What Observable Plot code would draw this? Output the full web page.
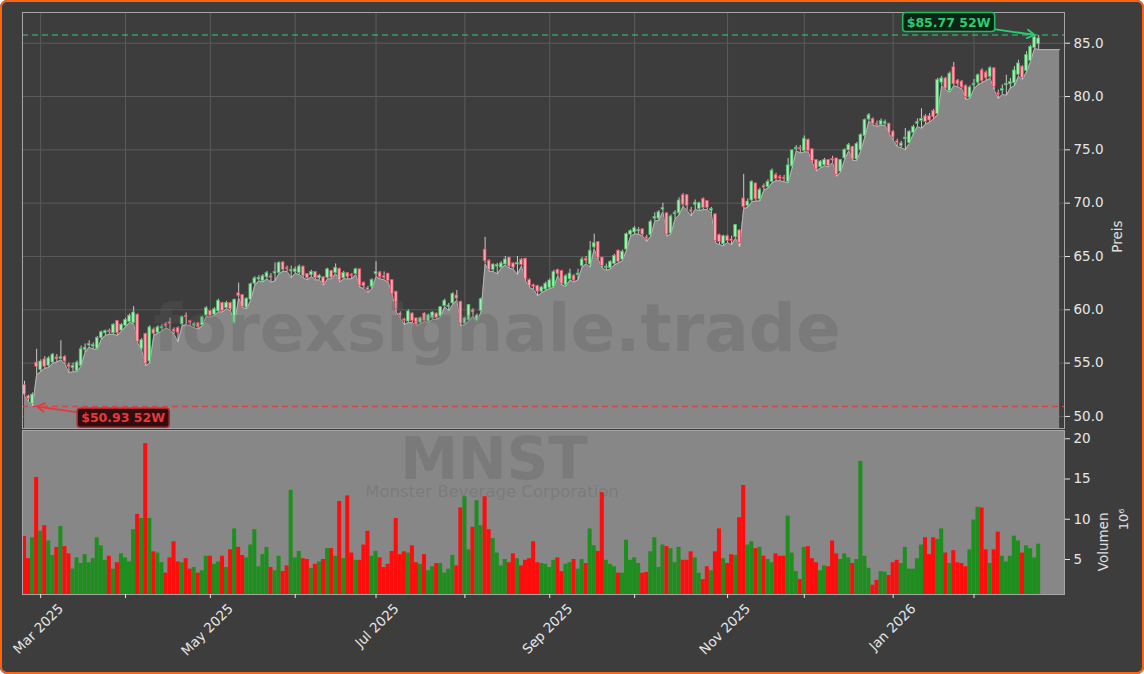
<!DOCTYPE html>
<html><head><meta charset="utf-8">
<script src="https://cdn.jsdelivr.net/npm/d3@7"></script>
<script src="https://cdn.jsdelivr.net/npm/@observablehq/plot@0.6"></script>
<style>
html,body{margin:0;padding:0;background:#ffffff;}
#fig{position:relative;width:1144px;height:674px;background:#3d3d3d;border-radius:7px;overflow:hidden;font-family:"DejaVu Sans",sans-serif;}
#fig > svg{position:absolute;left:0;}
#border{position:absolute;left:0;top:0;width:1144px;height:674px;box-sizing:border-box;border:2.5px solid #ff6411;border-radius:7px;pointer-events:none;}
</style></head><body>
<div id="fig"></div>
<script>
// ---- data (daily, trading-day index) ----
const opens = [
52.9,51.85,51.2,55.0,54.4,55.3,54.8,55.1,55.5,55.45,
55.55,54.8,54.6,54.3,54.8,56.3,56.7,56.6,56.4,57.4,
57.85,58.0,57.85,58.9,58.1,58.55,58.9,58.8,59.5,56.4,
57.7,55.2,58.1,57.9,58.3,58.6,58.8,58.1,58.25,58.7,
59.4,58.9,58.55,58.7,58.6,59.5,59.85,59.6,59.9,60.6,
60.2,60.6,58.8,61.5,61.35,60.25,61.0,62.5,62.9,62.75,
63.1,63.1,63.45,63.5,64.4,63.9,63.65,63.6,63.5,64.0,
63.3,63.3,63.5,63.0,63.0,63.05,63.6,63.5,63.8,63.0,
63.4,63.25,63.4,63.75,62.5,62.0,62.2,63.4,63.45,63.1,
63.35,62.75,61.65,59.6,59.05,58.95,59.6,59.15,58.85,59.6,
58.95,59.25,59.6,59.4,60.4,60.3,60.65,61.3,60.7,58.75,
59.05,59.9,59.0,59.95,65.6,64.55,63.8,64.1,64.0,64.3,
64.85,64.3,64.3,64.65,64.75,62.75,62.25,62.2,61.75,61.95,
62.1,62.2,63.7,63.6,62.35,62.9,63.15,63.3,64.15,64.75,
64.3,65.9,66.3,64.85,63.95,63.95,64.35,65.5,64.75,65.7,
67.1,67.3,67.4,67.5,66.75,67.05,68.6,68.6,69.45,69.0,
67.2,69.0,69.1,70.7,70.7,69.3,69.9,69.5,70.35,70.15,
69.35,68.9,66.95,66.2,66.85,66.55,66.85,67.4,70.4,69.8,
70.3,71.8,70.4,71.55,71.55,72.05,72.6,72.4,72.35,72.05,
73.5,75.1,75.15,74.95,75.9,75.0,74.0,73.45,73.6,74.0,
74.1,74.15,73.0,74.25,75.0,75.25,74.15,75.0,76.35,77.9,
77.85,77.4,77.4,77.5,77.4,76.65,75.75,75.4,76.05,75.7,
76.65,77.5,77.75,78.1,78.1,78.6,78.4,81.35,81.65,80.55,
82.7,81.45,81.35,80.95,79.95,81.1,81.35,82.4,82.2,81.9,
82.6,80.25,80.6,81.1,81.2,81.3,82.1,82.75,82.45,83.4,
84.6,84.95];
const closes = [
52.1,51.7,52.0,54.7,55.1,54.7,55.4,55.75,55.4,55.5,
55.2,54.7,54.7,55.0,56.25,56.4,56.75,56.65,57.3,57.85,
57.95,57.95,58.55,57.85,58.55,59.0,59.4,59.7,57.05,57.1,
55.0,58.3,57.8,58.3,58.35,58.5,58.7,58.0,57.9,59.25,
59.35,58.8,58.6,58.4,59.25,60.1,59.45,60.0,60.8,59.95,
60.6,60.1,60.9,61.35,60.3,61.0,62.35,62.9,62.95,63.1,
63.4,63.05,63.5,64.35,63.8,63.85,63.7,63.75,64.0,63.2,
63.0,63.5,63.0,63.15,62.5,63.75,63.05,63.9,62.8,63.4,
63.1,63.2,63.75,62.3,62.25,61.9,62.75,63.5,63.1,63.05,
62.75,61.5,60.1,59.5,59.0,59.8,59.0,58.6,59.15,59.0,
59.45,59.7,59.25,60.2,60.8,60.35,61.45,61.1,58.75,59.15,
60.4,59.8,59.4,60.95,64.6,63.8,64.2,64.15,64.3,64.67,
64.1,64.0,64.35,64.25,62.9,62.3,62.2,61.75,62.05,62.4,
62.7,63.5,63.4,62.5,63.1,63.35,62.8,63.35,64.67,64.65,
65.5,66.2,64.9,64.15,64.0,64.45,65.0,64.55,65.4,67.05,
67.35,67.6,67.45,67.1,66.7,68.2,68.65,69.1,69.5,67.1,
68.7,69.05,70.2,69.9,69.8,69.25,70.0,69.95,69.6,69.6,
69.4,66.5,66.4,66.85,66.5,66.5,67.9,66.3,69.7,70.1,
71.95,70.4,71.2,71.5,71.95,73.0,72.3,72.35,72.3,73.5,
74.9,75.15,75.1,76.0,74.95,74.0,73.2,73.85,74.0,73.55,
74.05,72.7,74.0,74.95,75.4,74.15,75.5,76.35,77.75,78.2,
77.45,77.35,77.65,77.55,76.65,76.2,75.7,75.55,76.1,76.65,
77.1,77.55,77.85,77.65,77.8,78.1,81.5,81.65,80.8,82.1,
81.2,81.2,80.9,80.0,80.8,81.15,81.95,81.5,81.75,82.6,
80.95,80.2,80.65,81.15,81.3,82.4,83.05,81.8,83.85,84.6,
85.5,85.4];
const highs = [
53.3,52.0,52.2,56.3,55.3,55.6,55.6,55.9,55.8,57.1,
55.7,55.0,55.0,55.2,56.6,56.8,57.1,56.9,57.5,58.0,
58.1,58.2,58.7,59.0,58.7,59.2,59.6,60.3,59.6,57.3,
57.8,58.5,58.3,58.5,58.6,58.8,59.2,58.3,58.4,59.4,
59.7,59.0,58.8,58.8,59.4,60.3,59.95,60.2,61.0,60.7,
60.8,60.7,61.0,62.5,61.4,61.1,62.5,63.1,63.2,63.3,
63.6,63.4,64.4,64.5,64.5,64.1,64.1,64.0,64.2,64.1,
63.4,63.7,63.6,63.3,63.1,63.9,63.7,64.3,63.9,63.6,
63.5,63.4,63.9,63.8,62.6,62.2,62.9,64.5,63.6,63.55,
63.4,62.8,61.7,59.8,59.2,60.0,59.7,59.2,59.3,59.7,
59.6,59.8,59.7,60.3,61.0,60.6,61.6,61.8,60.8,59.3,
60.5,60.1,59.6,61.1,66.8,64.7,64.3,64.35,64.5,65.0,
64.9,64.4,65.0,64.8,64.8,62.9,62.4,62.3,62.2,62.6,
62.9,63.7,63.8,63.7,63.3,63.8,63.3,63.8,64.9,65.0,
66.4,67.1,66.4,64.9,64.3,64.6,65.2,65.6,65.6,67.2,
67.5,67.8,67.7,67.6,67.0,68.4,69.1,69.3,70.0,69.1,
68.9,69.3,70.5,70.9,70.8,69.6,70.3,70.1,70.5,70.2,
69.6,69.0,67.1,67.0,67.0,66.9,68.0,67.5,72.7,70.4,
72.1,71.9,71.4,71.8,72.2,73.2,72.8,72.6,72.6,74.2,
75.0,75.4,75.4,76.3,76.0,75.1,74.1,74.0,74.2,74.1,
74.4,74.2,74.1,75.1,75.6,75.3,75.7,76.5,77.9,78.4,
78.0,77.7,77.9,77.8,77.5,76.8,76.0,75.8,77.0,76.8,
77.3,77.9,78.85,78.3,78.4,78.8,81.7,81.9,81.8,82.3,
83.2,81.6,81.5,81.1,81.0,81.6,82.1,82.6,82.4,82.8,
82.7,80.6,81.1,82.0,81.7,82.8,83.4,82.9,84.2,84.8,
85.77,85.7];
const lows = [
51.9,51.4,50.93,53.9,54.2,54.5,54.6,55.0,55.1,55.3,
54.9,54.1,54.2,54.2,54.7,56.0,56.5,56.3,56.3,57.2,
57.6,57.7,57.7,57.6,58.0,58.4,58.8,58.7,56.9,56.2,
54.75,55.0,57.6,57.8,58.0,58.3,58.1,57.7,57.0,58.5,
58.6,58.5,58.3,58.2,58.5,59.4,59.3,59.5,59.8,59.8,
60.1,59.9,58.7,61.1,60.2,60.1,60.9,62.3,62.7,62.6,
62.9,62.6,62.7,63.4,63.6,63.6,63.0,63.4,63.3,63.0,
62.8,63.1,62.8,62.8,62.3,62.9,62.9,63.4,62.6,62.9,
62.9,62.9,63.3,62.1,62.0,61.6,62.0,63.1,62.9,62.8,
62.6,61.4,59.8,59.2,58.6,58.8,58.8,58.5,58.7,58.9,
58.8,59.1,59.1,59.3,60.3,59.9,60.5,60.9,58.5,58.6,
58.95,59.4,58.9,59.8,64.3,63.6,63.6,63.35,63.9,64.2,
63.9,63.8,63.3,64.1,62.7,62.1,61.9,61.3,61.6,61.8,
62.0,62.1,63.2,62.3,62.2,62.8,62.6,62.8,64.0,64.3,
64.0,65.7,64.7,63.9,63.7,63.8,64.2,64.4,64.6,65.6,
66.9,67.1,67.1,66.9,66.4,66.9,68.3,68.4,69.2,66.9,
67.1,68.5,68.9,69.7,69.3,68.8,69.4,69.3,69.4,69.4,
69.0,66.3,66.1,66.0,66.3,66.1,66.7,65.9,69.5,69.6,
70.1,70.2,70.2,71.2,71.4,71.9,72.1,72.1,72.0,71.9,
73.3,74.9,74.7,74.8,74.8,73.8,73.0,73.3,73.5,73.4,
73.8,72.5,72.9,74.1,74.9,74.0,74.0,74.9,76.2,77.7,
77.3,77.2,77.3,77.3,76.5,75.9,75.3,75.2,75.0,75.6,
76.5,77.2,77.0,77.4,77.6,77.9,78.3,81.0,80.6,80.4,
81.0,80.9,80.7,79.7,79.8,80.7,81.1,81.3,81.5,81.7,
80.6,79.8,80.2,80.1,80.8,81.0,81.9,81.6,82.3,83.3,
84.5,84.4];
const volumes = [ // millions
7.86,5.1,7.7,15.2,8.5,9.2,7.3,5.5,6.5,9.1,
6.6,5.7,3.8,5.2,4.5,5.6,4.6,5.1,7.7,6.7,
4.9,5.4,3.8,4.6,5.7,5.2,4.7,8.7,10.6,10.1,
19.4,10.1,5.95,5.8,4.6,3.3,5.2,7.2,4.7,4.6,
5.1,3.8,4.0,3.3,3.6,5.4,5.4,4.4,4.7,5.4,
4.0,6.2,8.8,6.5,5.5,5.2,6.8,8.7,4.1,5.6,
6.5,4.0,3.6,5.4,3.5,4.2,13.6,5.2,6.0,5.1,
5.0,3.9,4.4,4.7,5.0,6.35,6.35,5.4,12.2,5.1,
12.9,5.8,4.9,4.9,6.8,8.5,5.4,6.0,5.2,4.0,
4.4,6.0,10.1,5.6,5.95,5.8,6.7,4.6,4.4,5.6,
3.6,4.1,4.5,4.5,3.3,3.8,5.5,4.2,11.4,12.8,
6.2,9.0,12.3,9.2,12.8,8.7,7.6,5.8,4.2,5.0,
4.6,5.7,5.1,4.2,4.9,5.1,7.2,4.6,4.5,4.4,
4.0,4.9,5.2,3.5,4.4,4.6,5.0,3.8,5.0,4.5,
8.8,6.7,6.0,13.3,4.9,4.4,4.1,3.3,3.3,7.4,
4.9,5.2,4.5,3.3,3.4,5.95,7.7,4.0,6.8,6.6,
6.35,4.6,6.5,4.9,4.9,5.95,5.2,3.3,2.5,4.1,
3.6,5.95,8.8,5.1,4.5,5.6,5.5,10.2,14.2,6.8,
7.2,6.35,6.5,5.4,5.0,4.6,5.7,5.4,5.4,10.4,
5.8,3.5,2.5,6.5,6.6,5.1,4.6,3.6,4.2,4.1,
7.3,5.7,5.0,5.7,5.2,4.5,5.0,17.2,5.4,3.9,
1.8,2.4,3.5,3.4,3.0,4.6,4.9,4.5,6.5,3.8,
3.8,5.1,6.8,7.7,5.6,7.7,7.5,8.8,5.8,4.5,
6.1,4.6,4.5,4.1,6.2,9.9,11.5,11.4,6.2,4.5,
6.2,8.4,5.4,4.7,5.4,7.9,7.3,5.8,6.7,6.35,
5.2,6.9];

// x-axis: trading-day index of the first session of each month
const labelTicks = [4, 46, 87, 130, 174, 215];
const tickLabels = ["Mar 2025", "May 2025", "Jul 2025", "Sep 2025", "Nov 2025", "Jan 2026"];
const minorTicks = [25, 67, 109, 151, 193, 235];
const priceTicks = [50, 55, 60, 65, 70, 75, 80, 85];
const volTicks = [5, 10, 15, 20];
const watermark = ["forexsignale.trade", "MNST", "Monster Beverage Corporation"];
const priceLabel = "Preis", volLabel = "Volumen", volUnit = "10⁶";

// ---- layout / style constants ----
const W = 1144;
const X_DOMAIN = [-0.5, 257.4];
const PRICE_DOMAIN = [48.87, 87.88];
const VOL_DOMAIN = [0.65, 21.03];
const AREA_PAD = 5.2;
const GREEN = "#2ecc71", RED = "#e8383d";
const FONT = "DejaVu Sans";

const rows = d3.range(closes.length).map(i => ({
  i, o: opens[i], h: highs[i], l: lows[i], c: closes[i], v: volumes[i], up: closes[i] >= opens[i]
}));
const last = rows[rows.length - 1];
const areaRows = [...rows, {i: last.i + AREA_PAD, l: last.l}];
const allTicks = [...labelTicks, ...minorTicks].sort((a, b) => a - b);
const hiVal = d3.max(highs), loVal = d3.min(lows);
const hi = {i: highs.indexOf(hiVal), p: hiVal};
const lo = {i: lows.indexOf(loVal), p: loVal};

const fig = document.getElementById("fig");

const price = Plot.plot({
  width: W, height: 430,
  marginLeft: 22, marginRight: 80, marginTop: 12, marginBottom: 2,
  style: {background: "transparent", color: "#e6e6e6", fontFamily: FONT, overflow: "visible"},
  x: {type: "linear", domain: X_DOMAIN, axis: null},
  y: {type: "linear", domain: PRICE_DOMAIN},
  marks: [
    Plot.ruleX(allTicks, {stroke: "#5b5b5b", strokeWidth: 1}),
    Plot.ruleY(priceTicks, {stroke: "#5b5b5b", strokeWidth: 1}),
    Plot.areaY(areaRows, {x: "i", y1: PRICE_DOMAIN[0], y2: "l", fill: "#878787"}),
    Plot.lineY(areaRows, {x: "i", y: "l", stroke: "#b4b4b4", strokeWidth: 1}),
    Plot.ruleY([hiVal], {stroke: GREEN, strokeOpacity: 0.7, strokeWidth: 1.6, strokeDasharray: "6,4"}),
    Plot.ruleY([loVal], {stroke: RED, strokeOpacity: 0.85, strokeWidth: 1.5, strokeDasharray: "6,4"}),
    Plot.ruleX(rows, {x: "i", y1: "l", y2: "h", stroke: "#d9d9d9", strokeWidth: 0.9}),
    Plot.rect(rows, {
      x1: d => d.i - 0.34, x2: d => d.i + 0.34, y1: "o", y2: "c",
      insetTop: -0.5, insetBottom: -0.5,
      fill: d => d.up ? "#a8ebb4" : "#f5a9b5",
      stroke: d => d.up ? "#45bd62" : "#e04a62", strokeWidth: 0.75
    }),
    Plot.frame({stroke: "#a6a6a6"}),
    Plot.arrow([hi], {x1: d => d.i - 10.1, y1: d => d.p + 0.56, x2: "i", y2: "p", stroke: GREEN, strokeWidth: 1.8, headLength: 7}),
    Plot.arrow([lo], {x1: d => d.i + 10.9, y1: d => d.p - 0.53, x2: d => d.i + 1.1, y2: "p", stroke: RED, strokeWidth: 1.8, headLength: 7}),
    Plot.text([hi], {x: "i", y: "p", text: d => `$${d.p.toFixed(2)} 52W`, dx: -86, dy: -12.5,
      fill: GREEN, fontWeight: "bold", fontSize: 12.5, fontFamily: FONT}),
    Plot.text([lo], {x: "i", y: "p", text: d => `$${d.p.toFixed(2)} 52W`, dx: 90.5, dy: 11.7,
      fill: RED, fontWeight: "bold", fontSize: 12.5, fontFamily: FONT}),
    Plot.axisY({anchor: "right", ticks: priceTicks, tickFormat: d3.format(".1f"), tickSize: 5, tickPadding: 4, fontSize: 13.5, label: null}),
    Plot.text([priceLabel], {text: d => d, frameAnchor: "right", rotate: -90, dx: 53.5, fontSize: 13.5, fill: "#e0e0e0"})
  ]
});
price.style.top = "0px";
fig.appendChild(price);

const vol = Plot.plot({
  width: W, height: 246,
  marginLeft: 22, marginRight: 80, marginTop: 2, marginBottom: 80,
  style: {background: "transparent", color: "#e6e6e6", fontFamily: FONT, overflow: "visible"},
  x: {type: "linear", domain: X_DOMAIN},
  y: {type: "linear", domain: VOL_DOMAIN},
  marks: [
    Plot.frame({fill: "#878787", stroke: null}),
    Plot.rect(rows, {x1: d => d.i - 0.5, x2: d => d.i + 0.5, y1: VOL_DOMAIN[0], y2: "v",
      fill: d => d.up ? "#1e8f1e" : "#ff0d0d"}),
    Plot.frame({stroke: "#a6a6a6"}),
    Plot.axisY({anchor: "right", ticks: volTicks, tickFormat: d => String(d), tickSize: 5, tickPadding: 4, fontSize: 13.5, label: null}),
    Plot.axisX({anchor: "bottom", ticks: allTicks, tickSize: 4, tickFormat: () => "", label: null}),
    Plot.text(labelTicks, {x: d => d, text: (d, k) => tickLabels[k], frameAnchor: "bottom",
      rotate: -45, textAnchor: "end", dx: 23.5, dy: 15, fontSize: 13.5, fill: "#e6e6e6"}),
    Plot.text([volLabel], {text: d => d, frameAnchor: "right", rotate: -90, dx: 39.5, fontSize: 13.5, fill: "#e0e0e0"}),
    Plot.text([volUnit], {text: d => d, frameAnchor: "right", rotate: -90, dx: 59.5, dy: -4, fontSize: 13, fill: "#e0e0e0"})
  ]
});
vol.style.top = "428px";
fig.appendChild(vol);

// boxes behind 52W labels
function boxLabel(svg, str, fill, stroke) {
  const sRect = svg.getBoundingClientRect();
  svg.querySelectorAll("text").forEach(t => {
    if (t.textContent !== str) return;
    const r = t.getBoundingClientRect();
    let g = t; while (g.parentNode !== svg) g = g.parentNode;
    const rect = document.createElementNS("http://www.w3.org/2000/svg", "rect");
    const padX = 4, padY = 2.5;
    rect.setAttribute("x", r.left - sRect.left - padX);
    rect.setAttribute("y", r.top - sRect.top - padY + 0.5);
    rect.setAttribute("width", r.width + 2 * padX);
    rect.setAttribute("height", r.height + 2 * padY - 1);
    rect.setAttribute("rx", 3);
    rect.setAttribute("fill", fill);
    rect.setAttribute("stroke", stroke);
    rect.setAttribute("stroke-width", 1.6);
    svg.insertBefore(rect, g);
  });
}
boxLabel(price, `$${hiVal.toFixed(2)} 52W`, "#0c2414", "#27b862");
boxLabel(price, `$${loVal.toFixed(2)} 52W`, "#2e0e0e", "#b8272c");

// watermark overlay
const wm = d3.create("svg").attr("width", W).attr("height", 674)
  .style("top", "0px").style("pointer-events", "none");
const wmStyle = (sel) => sel.attr("text-anchor", "middle").attr("font-family", FONT).attr("fill", "#5e5e5e").attr("fill-opacity", 0.3);
wm.append("text").call(wmStyle).attr("x", 497).attr("y", 351).attr("font-size", 66).attr("font-weight", "bold").text(watermark[0]);
wm.append("text").call(wmStyle).attr("x", 494).attr("y", 479).attr("font-size", 58).attr("font-weight", "bold").text(watermark[1]);
wm.append("text").call(wmStyle).attr("x", 492).attr("y", 497).attr("font-size", 16.5).text(watermark[2]);
fig.appendChild(wm.node());

const border = document.createElement("div");
border.id = "border";
fig.appendChild(border);
</script>
</body></html>
